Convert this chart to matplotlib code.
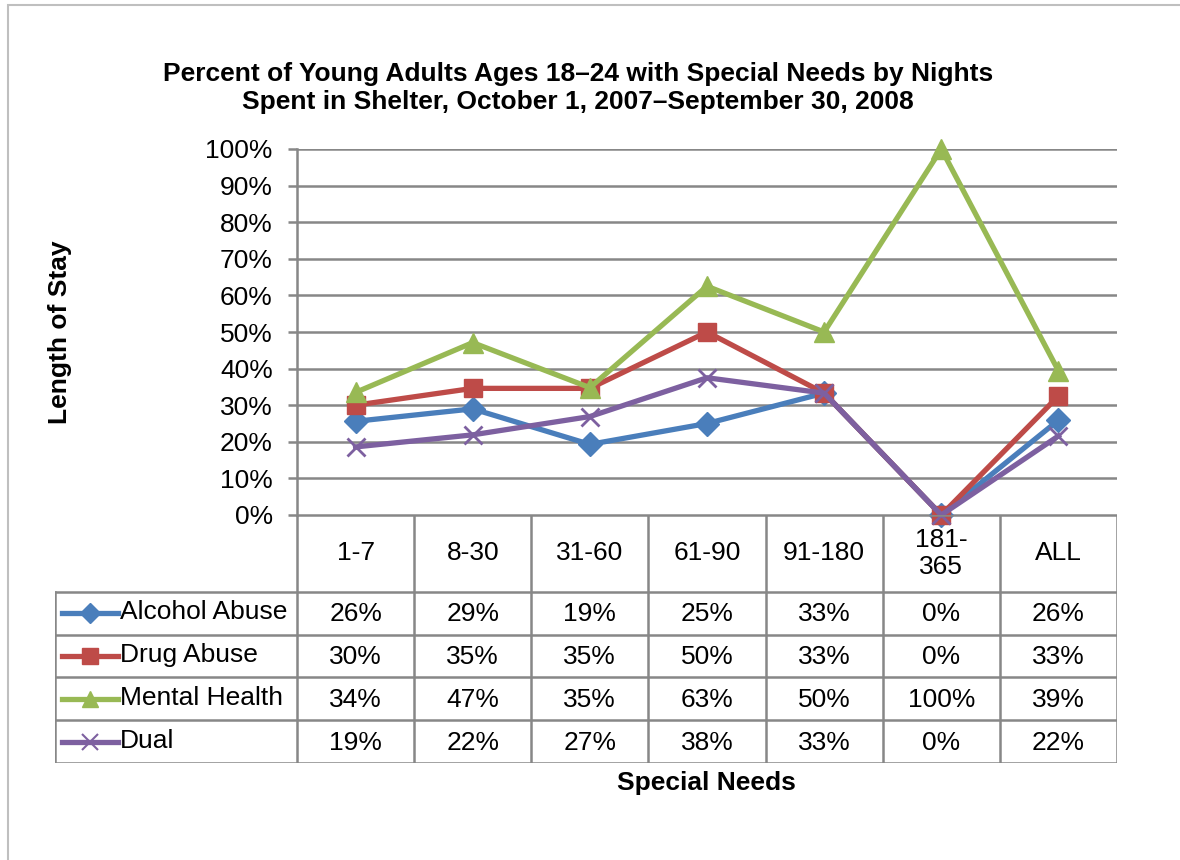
import matplotlib
matplotlib.use('Agg')
import matplotlib.pyplot as plt
from matplotlib.patches import Rectangle
from matplotlib.ticker import PercentFormatter
from matplotlib.lines import Line2D

plt.rcParams['font.family'] = ['Liberation Sans', 'DejaVu Sans']

# data
categories = ['1-7', '8-30', '31-60', '61-90', '91-180', '181-\n365', 'ALL']
alcohol = [25.6, 29.0, 19.3, 25.0, 33.3, 0, 25.9]
drug = [30.0, 34.6, 34.6, 50.0, 33.3, 0, 32.5]
mental = [33.5, 47.1, 34.8, 62.5, 50.0, 100, 39.4]
dual = [18.6, 21.9, 26.9, 37.5, 33.3, 0, 21.6]
series_names = ['Alcohol Abuse', 'Drug Abuse', 'Mental Health', 'Dual']
series_values = [alcohol, drug, mental, dual]
colors = ['#4A7EBB', '#BE4B48', '#98B954', '#7D60A0']
markers = ['D', 's', '^', 'x']
msizes = [12, 13, 14, 13]

W, H = 1180, 860
FS = 19
fig = plt.figure(figsize=(W / 100, H / 100), dpi=100)
grid_c = '#878787'

def box(x0, y0, x1, y1):
    # pixel box (top-left origin) -> figure fraction
    return [x0 / W, 1 - y1 / H, (x1 - x0) / W, (y1 - y0) / H]

# outer frame
fig.patches.append(Rectangle((8 / W, -0.1), 1.2, 1 - 5 / H + 0.1, transform=fig.transFigure,
                             fill=False, edgecolor='#BFBFBF', lw=1.5))

# chart axes
x_left, x_right, y_top, y_bot = 297, 1117, 149, 515
ax = fig.add_axes(box(x_left, y_top, x_right, y_bot))
n = len(categories)
xs = list(range(n))
for vals, c, m, ms in zip(series_values, colors, markers, msizes):
    ax.plot(xs, vals, color=c, lw=3.8, marker=m, ms=ms, mew=2 if m == 'x' else 1,
            mec=c, mfc=c, zorder=3, clip_on=False)
ax.set_xlim(-0.5, n - 0.5)
ax.set_ylim(0, 100)
ax.set_yticks(range(0, 101, 10))
ax.yaxis.set_major_formatter(PercentFormatter(decimals=0))
ax.set_xticks([])
ax.grid(axis='y', color=grid_c, lw=1.8)
ax.set_axisbelow(True)
for s in ['top', 'right', 'bottom']:
    ax.spines[s].set_visible(False)
ax.spines['left'].set_color(grid_c)
ax.spines['left'].set_linewidth(1.8)
ax.tick_params(axis='y', length=6.5, width=1.8, color=grid_c, labelsize=FS, pad=11)

# table axes (shares category units with chart)
t_left, t_bot = 55, 763
unit = (x_right - x_left) / n
ax_t = fig.add_axes(box(t_left, y_bot, x_right, t_bot))
ax_t.set_xlim(-0.5 - (x_left - t_left) / unit, n - 0.5)
ax_t.set_ylim(t_bot, y_bot)
ax_t.axis('off')

head_bot = 592
row_h = (t_bot - head_bot) / 4
xl = ax_t.get_xlim()[0]
lk = dict(color=grid_c, lw=1.8, solid_capstyle='projecting')
# vertical lines
for i in range(n + 1):
    ax_t.plot([i - 0.5, i - 0.5], [y_bot, t_bot], **lk)
ax_t.plot([xl, xl], [head_bot, t_bot], **lk)
# horizontal lines
ax_t.plot([-0.5, n - 0.5], [y_bot, y_bot], **lk)
for r in range(5):
    yy = head_bot + r * row_h
    ax_t.plot([xl, n - 0.5], [yy, yy], **lk)

for i, cat in enumerate(categories):
    ax_t.text(i, (y_bot + head_bot) / 2, cat, ha='center', va='center', fontsize=FS,
              linespacing=1.15)

for r, (name, vals, c, m, ms) in enumerate(zip(series_names, series_values, colors, markers, msizes)):
    yc = head_bot + (r + 0.5) * row_h
    for i, v in enumerate(vals):
        ax_t.text(i, yc + 1, f'{int(v + 0.5)}%', ha='center', va='center', fontsize=FS)
    lx0 = xl + 7 / unit
    lx1 = xl + 63 / unit
    ax_t.add_line(Line2D([lx0, lx1], [yc, yc], color=c, lw=3.8))
    ax_t.add_line(Line2D([(lx0 + lx1) / 2], [yc], color=c, marker=m, ms=ms * 0.85,
                         mew=1.5 if m == 'x' else 1, mec=c, mfc=c))
    ax_t.text(xl + 65 / unit, yc - 1, name, ha='left', va='center', fontsize=FS)

# titles
fig.text(578 / W, 1 - 88 / H,
         'Percent of Young Adults Ages 18\u201324 with Special Needs by Nights\n'
         'Spent in Shelter, October 1, 2007\u2013September 30, 2008',
         ha='center', va='center', fontsize=FS, fontweight='bold', linespacing=1.2)
fig.text(60 / W, 1 - 332 / H, 'Length of Stay', rotation=90, ha='center', va='center',
         fontsize=FS, fontweight='bold')
fig.text(706 / W, 1 - 783 / H, 'Special Needs', ha='center', va='center',
         fontsize=FS, fontweight='bold')

fig.savefig('out.png', dpi=100)
